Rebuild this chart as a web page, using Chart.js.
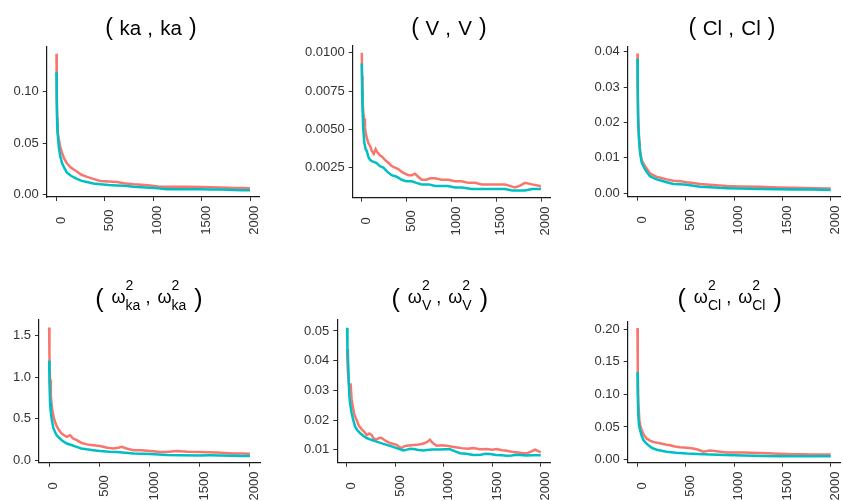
<!DOCTYPE html>
<html><head><meta charset="utf-8">
<script src="https://cdn.jsdelivr.net/npm/chart.js@4.4.1/dist/chart.umd.min.js"></script>
<style>
html,body{margin:0;padding:0;background:#fff;}
body{width:843px;height:501px;overflow:hidden;position:relative;}
canvas{position:absolute;}
.t{position:absolute;text-align:left;white-space:nowrap;color:#000;z-index:2;
   font-family:"Liberation Sans",Arial,sans-serif;}
.top{top:14.7px;font-size:20.5px;line-height:24px;}
.top .p{font-size:23px;}
.top .a{margin-left:6.5px;}
.top .c{margin-left:6px;}
.top .b{margin-left:7.5px;}
.top .e{margin-left:7px;}
.bot{top:279px;font-size:18px;line-height:30px;}
.bot .p{font-size:25px;position:relative;top:3.5px;}
.bot .a{margin-left:8px;}
.bot .c{margin-left:5px;}
.bot .b{margin-left:7px;}
.bot .e{margin-left:8px;}
.sp{display:inline-block;width:0;font-size:14px;position:relative;top:-13px;}
.sb{font-size:14px;position:relative;top:7px;}
</style></head>
<body>
<canvas id="c1"></canvas><canvas id="c2"></canvas><canvas id="c3"></canvas>
<canvas id="c4"></canvas><canvas id="c5"></canvas><canvas id="c6"></canvas>

<div class="t top" style="left:105.3px"><span class="p">(</span><span class="a">ka</span><span class="c">,</span><span class="b">ka</span><span class="p e">)</span></div>
<div class="t top" style="left:411.3px"><span class="p">(</span><span class="a">V</span><span class="c">,</span><span class="b">V</span><span class="p e">)</span></div>
<div class="t top" style="left:688.6px"><span class="p">(</span><span class="a">Cl</span><span class="c">,</span><span class="b">Cl</span><span class="p e">)</span></div>

<div class="t bot" style="left:95.2px"><span class="p">(</span><span class="a">ω</span><span class="sp">2</span><span class="sb">ka</span><span class="c">,</span><span class="b">ω</span><span class="sp">2</span><span class="sb">ka</span><span class="p e">)</span></div>
<div class="t bot" style="left:391.5px"><span class="p">(</span><span class="a">ω</span><span class="sp">2</span><span class="sb">V</span><span class="c">,</span><span class="b">ω</span><span class="sp">2</span><span class="sb">V</span><span class="p e">)</span></div>
<div class="t bot" style="left:677.5px"><span class="p">(</span><span class="a">ω</span><span class="sp">2</span><span class="sb">Cl</span><span class="c">,</span><span class="b">ω</span><span class="sp">2</span><span class="sb">Cl</span><span class="p e">)</span></div>

<script>
// ---------- shared x axis ----------
const xTicks = [0, 500, 1000, 1500, 2000];
const xTickLabels = ["0", "500", "1000", "1500", "2000"];

// ---------- ( ka , ka ) ----------
const ka_red_iter = [1,4,8,12,25,40,60,80,110,150,213,260,316,380,454,540,625,700,797,880,969,1050,1140,1250,1350,1485,1600,1700,1828,1920,2000];
const ka_red      = [0.137,0.100,0.075,0.062,0.054,0.046,0.040,0.035,0.030,0.026,0.022,0.019,0.017,0.015,0.013,0.0125,0.012,0.0108,0.0098,0.0092,0.0085,0.0076,0.0072,0.0074,0.0073,0.0070,0.0068,0.0066,0.0062,0.0060,0.0059];
const ka_blue_iter = [1,4,8,12,25,40,60,80,110,150,213,260,316,380,454,540,625,700,797,880,969,1050,1140,1250,1350,1485,1600,1700,1828,1920,2000];
const ka_blue      = [0.119,0.090,0.070,0.060,0.046,0.037,0.030,0.026,0.021,0.018,0.015,0.013,0.012,0.0105,0.0098,0.0090,0.0085,0.0082,0.0072,0.0068,0.0063,0.0058,0.0049,0.0048,0.0049,0.0049,0.0047,0.0045,0.0041,0.0040,0.0039];
const ka_yticks = [0, 0.05, 0.10];
const ka_ylabels = ["0.00", "0.05", "0.10"];

// ---------- ( V , V ) ----------
const V_red_iter = [1,5,10,19,28,37,50,74,95,112,135,156,175,204,230,260,300,335,370,409,450,483,520,560,595,630,669,720,770,818,890,966,1040,1115,1190,1264,1340,1412,1500,1598,1650,1710,1760,1821,1900,1989,2000];
const V_red      = [0.0100,0.0085,0.0069,0.0060,0.0057,0.0051,0.0046,0.0041,0.0039,0.0036,0.0034,0.0037,0.0035,0.0033,0.0032,0.0030,0.0028,0.0026,0.0025,0.0024,0.0022,0.0021,0.0020,0.0020,0.0021,0.0019,0.0017,0.0017,0.0018,0.0018,0.0017,0.0017,0.0016,0.0016,0.0015,0.0015,0.0014,0.0014,0.0014,0.0014,0.0013,0.0012,0.0013,0.0015,0.0014,0.0013,0.0013];
const V_blue_iter = [1,5,10,19,30,45,56,75,93,120,167,200,242,290,335,390,446,500,558,610,669,750,820,892,960,1041,1120,1227,1300,1412,1500,1598,1680,1747,1820,1900,2000];
const V_blue      = [0.0093,0.0075,0.0062,0.0049,0.0041,0.0037,0.0036,0.0032,0.0030,0.0029,0.0028,0.0026,0.0025,0.0022,0.0020,0.0019,0.0017,0.0016,0.0016,0.0015,0.0014,0.0014,0.0013,0.0013,0.0013,0.0012,0.0012,0.0011,0.0011,0.0011,0.0011,0.0011,0.0010,0.0010,0.0010,0.0011,0.0011];
const V_yticks = [0.0025, 0.0050, 0.0075, 0.0100];
const V_ylabels = ["0.0025", "0.0050", "0.0075", "0.0100"];

// ---------- ( Cl , Cl ) ----------
const Cl_red_iter = [1,4,8,17,28,45,79,105,131,165,200,250,303,372,441,510,579,650,752,850,924,1050,1269,1450,1614,1800,2000];
const Cl_red      = [0.0395,0.030,0.022,0.016,0.012,0.0093,0.0076,0.0066,0.0056,0.0051,0.0046,0.0043,0.0039,0.0035,0.0034,0.0031,0.0029,0.0026,0.0024,0.0022,0.0020,0.0019,0.0018,0.0016,0.0015,0.0014,0.0013];
const Cl_blue_iter = [1,4,8,17,28,45,79,105,131,165,200,250,303,372,441,510,579,648,752,850,924,1050,1269,1450,1614,1800,2000];
const Cl_blue      = [0.038,0.028,0.020,0.0152,0.0114,0.0086,0.0067,0.0057,0.0048,0.0043,0.0039,0.0035,0.0031,0.0026,0.0025,0.0024,0.0021,0.0018,0.0017,0.0015,0.0014,0.0013,0.0012,0.0011,0.0010,0.0010,0.0009];
const Cl_yticks = [0, 0.01, 0.02, 0.03, 0.04];
const Cl_ylabels = ["0.00", "0.01", "0.02", "0.03", "0.04"];

// ---------- ( ω²ka , ω²ka ) ----------
const wka_red_iter = [1,4,10,18,27,43,60,76,100,126,150,176,209,240,275,320,375,440,507,580,640,690,723,770,839,920,1005,1090,1171,1270,1380,1503,1580,1668,1750,1834,1920,2000];
const wka_red      = [1.60,1.25,0.97,0.78,0.65,0.53,0.46,0.41,0.36,0.32,0.30,0.28,0.30,0.26,0.24,0.21,0.19,0.18,0.17,0.15,0.14,0.15,0.16,0.14,0.12,0.12,0.11,0.10,0.097,0.11,0.10,0.097,0.095,0.093,0.087,0.081,0.079,0.077];
const wka_blue_iter = [1,4,10,18,27,43,60,76,100,126,176,230,275,320,375,440,507,600,673,760,839,920,1005,1090,1171,1300,1503,1600,1700,1834,1920,2000];
const wka_blue      = [1.20,0.95,0.69,0.57,0.49,0.385,0.34,0.30,0.27,0.24,0.20,0.18,0.16,0.14,0.13,0.12,0.11,0.10,0.097,0.090,0.081,0.077,0.073,0.068,0.061,0.059,0.057,0.058,0.057,0.053,0.051,0.049];
const wka_yticks = [0, 0.5, 1.0, 1.5];
const wka_ylabels = ["0.0", "0.5", "1.0", "1.5"];

// ---------- ( ω²V , ω²V ) ----------
const wV_red_iter = [1,10,20,38,48,58,75,100,125,151,180,203,230,255,272,300,330,358,400,444,480,513,540,565,590,616,660,720,770,805,840,857,880,926,980,1029,1060,1098,1140,1184,1240,1305,1370,1442,1500,1545,1600,1649,1700,1752,1800,1855,1900,1941,1970,2000];
const wV_red      = [0.044,0.036,0.032,0.032,0.027,0.025,0.022,0.020,0.018,0.017,0.016,0.015,0.0155,0.015,0.014,0.0135,0.014,0.014,0.013,0.0123,0.012,0.0117,0.011,0.0106,0.0112,0.0114,0.0116,0.0117,0.012,0.0123,0.013,0.0134,0.0125,0.0114,0.0116,0.0114,0.0112,0.011,0.0108,0.0106,0.0104,0.0106,0.0102,0.0103,0.0101,0.0103,0.0099,0.0097,0.0094,0.0092,0.0090,0.0088,0.0094,0.0101,0.0097,0.0092];
const wV_blue_iter = [1,5,14,24,35,48,65,83,105,134,170,203,250,306,360,410,460,513,550,582,620,650,685,740,790,823,880,960,1010,1064,1110,1167,1230,1305,1380,1430,1477,1540,1600,1649,1700,1740,1786,1850,1920,2000];
const wV_blue      = [0.0511,0.044,0.037,0.028,0.025,0.0224,0.020,0.0179,0.0167,0.0157,0.0147,0.014,0.0134,0.0128,0.0122,0.0117,0.0112,0.0106,0.0102,0.0098,0.0101,0.0104,0.0103,0.0100,0.0098,0.0100,0.0101,0.0101,0.0102,0.0102,0.0096,0.0089,0.0087,0.0083,0.0084,0.0087,0.0086,0.0083,0.0082,0.0080,0.0081,0.0084,0.0083,0.0081,0.0082,0.0082];
const wV_yticks = [0.01, 0.02, 0.03, 0.04, 0.05];
const wV_ylabels = ["0.01", "0.02", "0.03", "0.04", "0.05"];

// ---------- ( ω²Cl , ω²Cl ) ----------
const wCl_red_iter = [1,4,10,21,30,45,70,97,130,166,200,234,290,338,390,441,510,579,630,683,720,752,800,860,924,1000,1096,1180,1269,1350,1450,1540,1614,1700,1800,1900,2000];
const wCl_red      = [0.2015,0.14,0.086,0.060,0.052,0.045,0.037,0.032,0.029,0.027,0.026,0.025,0.023,0.022,0.020,0.019,0.018,0.017,0.015,0.012,0.013,0.014,0.013,0.012,0.011,0.011,0.011,0.0105,0.010,0.0095,0.009,0.0085,0.008,0.008,0.0079,0.0078,0.0077];
const wCl_blue_iter = [1,4,10,17,28,45,62,85,114,150,200,250,303,400,510,620,752,900,1096,1300,1441,1600,1800,2000];
const wCl_blue      = [0.134,0.10,0.066,0.053,0.045,0.036,0.030,0.026,0.022,0.018,0.015,0.0135,0.012,0.0105,0.0092,0.0085,0.0077,0.0070,0.0062,0.0056,0.0051,0.0052,0.0051,0.0050];
const wCl_yticks = [0, 0.05, 0.10, 0.15, 0.20];
const wCl_ylabels = ["0.00", "0.05", "0.10", "0.15", "0.20"];

// ---------- drawing ----------
const RED = "#F8766D", TEAL = "#00BFC4";
const FONT = '"Liberation Sans", Arial, sans-serif';
const pts = (xs, ys) => xs.map((x, i) => ({x: x, y: ys[i]}));

const rotatedXLabels = {
  id: "rotX",
  afterDraw(chart) {
    const s = chart.scales.x, ctx = chart.ctx;
    ctx.save();
    ctx.font = "13px " + FONT;
    ctx.fillStyle = "#333";
    ctx.textAlign = "center";
    ctx.textBaseline = "middle";
    xTicks.forEach((v, i) => {
      const px = s.getPixelForValue(v);
      ctx.save();
      ctx.translate(px + 4.7, s.top + 23.3);
      ctx.rotate(-Math.PI / 2);
      ctx.fillText(xTickLabels[i], 0, 0);
      ctx.restore();
    });
    ctx.restore();
  }
};

function panel(id, box, redX, redY, blueX, blueY, yMin, yMax, yTicks, yLabels) {
  const cv = document.getElementById(id);
  cv.style.left = box.cl + "px"; cv.style.top = box.ct + "px";
  cv.width = box.cw; cv.height = box.ch;
  cv.style.width = box.cw + "px"; cv.style.height = box.ch + "px";
  const gridOpts = {drawOnChartArea: false, drawTicks: true, tickLength: 4, color: "#333", lineWidth: 1};
  const borderOpts = {display: true, color: "#1a1a1a", width: 1.2};
  new Chart(cv, {
    type: "line",
    data: {datasets: [
      {data: pts(blueX, blueY), borderColor: TEAL, borderWidth: 2.5, pointRadius: 0, tension: 0, fill: false},
      {data: pts(redX, redY), borderColor: RED, borderWidth: 2.5, pointRadius: 0, tension: 0, fill: false}
    ]},
    options: {
      responsive: false, animation: false, events: [],
      layout: {padding: {top: box.pt, right: box.pr, left: 0, bottom: 0}},
      plugins: {legend: {display: false}, tooltip: {enabled: false}},
      scales: {
        x: {type: "linear", min: -100, max: 2100,
            afterBuildTicks: s => { s.ticks = xTicks.map(v => ({value: v})); },
            afterFit: s => { s.height = box.xh; },
            ticks: {display: false},
            grid: gridOpts, border: borderOpts},
        y: {type: "linear", min: yMin, max: yMax,
            afterBuildTicks: s => { s.ticks = yTicks.map(v => ({value: v})); },
            afterFit: s => { s.width = box.yw; },
            ticks: {autoSkip: false, padding: 4, color: "#333",
                    font: {family: FONT, size: 13},
                    callback: (v, i) => yLabels[i]},
            grid: gridOpts, border: borderOpts}
      }
    },
    plugins: [rotatedXLabels]
  });
}

panel("c1", {cl: 0,   ct: 30, cw: 281, ch: 220, yw: 46.7, pr: 21.3, pt: 17,   xh: 53},
      ka_red_iter, ka_red, ka_blue_iter, ka_blue, -0.0027, 0.1437, ka_yticks, ka_ylabels);
panel("c2", {cl: 281, ct: 30, cw: 281, ch: 220, yw: 71.7, pr: 12,   pt: 16,   xh: 52.3},
      V_red_iter, V_red, V_blue_iter, V_blue, 0.00053, 0.01045, V_yticks, V_ylabels);
panel("c3", {cl: 562, ct: 30, cw: 281, ch: 220, yw: 65.7, pr: 2.6,  pt: 16.7, xh: 53.3},
      Cl_red_iter, Cl_red, Cl_blue_iter, Cl_blue, -0.001, 0.0414, Cl_yticks, Cl_ylabels);
panel("c4", {cl: 0,   ct: 300, cw: 281, ch: 201, yw: 39,   pr: 21,   pt: 20,   xh: 38.3},
      wka_red_iter, wka_red, wka_blue_iter, wka_blue, -0.031, 1.69, wka_yticks, wka_ylabels);
panel("c5", {cl: 281, ct: 300, cw: 281, ch: 201, yw: 56.3, pr: 11.6, pt: 20,   xh: 38.3},
      wV_red_iter, wV_red, wV_blue_iter, wV_blue, 0.0057, 0.0537, wV_yticks, wV_ylabels);
panel("c6", {cl: 562, ct: 300, cw: 281, ch: 201, yw: 65.7, pr: 2.6,  pt: 21.7, xh: 38.3},
      wCl_red_iter, wCl_red, wCl_blue_iter, wCl_blue, -0.0048, 0.2113, wCl_yticks, wCl_ylabels);
</script>
</body></html>
